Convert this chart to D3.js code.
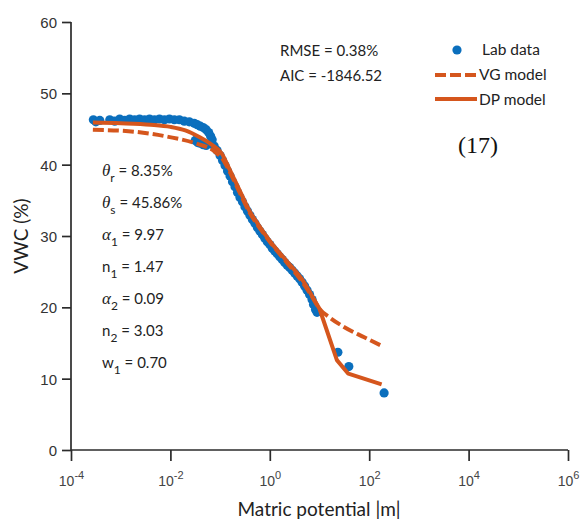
<!DOCTYPE html>
<html>
<head>
  <meta charset="utf-8">
  <script src="https://d3js.org/d3.v7.min.js"></script>
  <style>
    body { margin: 0; background: #fff; }
    svg { display: block; }
    .sans { font-family: Lato, "Open Sans", sans-serif; fill: #222; }
    .tick-y { font-family: "Liberation Sans", Arial, sans-serif; font-size: 15px; fill: #333; }
    .tick-x { font-family: "Liberation Sans", Arial, sans-serif; font-size: 14px; fill: #444; }
  </style>
</head>
<body>
<div id="chart"></div>
<script>
// lab data: [log10 |h| (m), VWC %]
const labData = [
  [-3.55, 46.3], [-3.50, 46.0], [-3.42, 46.2], [-3.22, 46.3], [-3.12, 46.1], [-3.02, 46.4],
  [-2.92, 46.2], [-2.82, 46.4], [-2.72, 46.3], [-2.62, 46.4], [-2.52, 46.3], [-2.42, 46.4],
  [-2.32, 46.3], [-2.22, 46.4], [-2.12, 46.3], [-2.02, 46.4], [-1.92, 46.3], [-1.82, 46.3],
  [-1.72, 46.1], [-1.62, 46.0], [-1.52, 45.8], [-1.46, 45.6], [-1.40, 45.4], [-1.34, 45.2],
  [-1.28, 44.9], [-1.23, 44.5], [-1.19, 44.0], [-1.16, 43.5], [-1.50, 43.4], [-1.45, 43.1],
  [-1.40, 43.0], [-1.34, 42.8], [-1.28, 42.7], [-1.12, 42.6], [-1.06, 42.0], [-1.00, 41.3],
  [-0.95, 40.6], [-0.90, 39.9], [-0.85, 39.1], [-0.80, 38.4], [-0.75, 37.6], [-0.70, 36.9],
  [-0.65, 36.1], [-0.60, 35.4], [-0.55, 34.8], [-0.50, 34.1], [-0.45, 33.5], [-0.40, 32.9],
  [-0.35, 32.3], [-0.30, 31.8], [-0.25, 31.2], [-0.20, 30.7], [-0.15, 30.2], [-0.10, 29.7],
  [-0.05, 29.2], [0.00, 28.8], [0.05, 28.3], [0.10, 27.9], [0.15, 27.5], [0.20, 27.1],
  [0.25, 26.7], [0.30, 26.3], [0.35, 25.9], [0.40, 25.6], [0.45, 25.2], [0.50, 24.8],
  [0.55, 24.4], [0.60, 24.0], [0.65, 23.5], [0.70, 23.0], [0.75, 22.4], [0.80, 21.8],
  [0.85, 21.1], [0.88, 20.4], [0.92, 19.7], [0.95, 19.3],
  [1.37, 13.7], [1.59, 11.7], [2.30, 8.0]
];

// DP model (solid)
const dpModel = [
  [-3.56, 45.9], [-3.0, 45.8], [-2.4, 45.6], [-2.0, 45.3], [-1.7, 44.8], [-1.4, 43.8],
  [-1.17, 42.8], [-0.97, 41.6], [-0.8, 39.2], [-0.6, 36.3], [-0.4, 33.4], [-0.26, 31.9],
  [0.0, 29.3], [0.34, 26.5], [0.67, 23.7], [0.85, 21.6], [1.0, 19.8], [1.35, 12.6],
  [1.58, 10.7], [2.25, 9.2]
];

// VG model (dashed)
const vgModel = [
  [-3.56, 44.9], [-2.7, 44.6], [-2.04, 43.9], [-1.5, 43.0], [-1.1, 41.8], [-0.95, 40.8],
  [-0.8, 38.9], [-0.6, 36.0], [-0.4, 33.2], [-0.26, 31.7], [0.0, 29.2], [0.34, 26.3],
  [0.67, 23.4], [0.85, 21.5], [1.0, 19.8], [1.2, 18.6], [1.48, 17.3], [1.9, 15.8], [2.28, 14.5]
];

const yTicks = [0, 10, 20, 30, 40, 50, 60];
const xTickExps = [-4, -2, 0, 2, 4, 6];

const fitStats = ['RMSE = 0.38%', 'AIC = -1846.52'];
// [symbol, italic greek?, subscript, value]
const params = [
  ['\u03B8', true, 'r', ' = 8.35%'],
  ['\u03B8', true, 's', ' = 45.86%'],
  ['\u03B1', true, '1', ' = 9.97'],
  ['n', false, '1', ' = 1.47'],
  ['\u03B1', true, '2', ' = 0.09'],
  ['n', false, '2', ' = 3.03'],
  ['w', false, '1', ' = 0.70']
];
const legendLabels = ['Lab data', 'VG model', 'DP model'];

const width = 587, height = 529;
const blue = '#0b6fbd', orange = '#d5561d', axisColor = '#2b2b2b';

const svg = d3.select('#chart').append('svg')
  .attr('width', width)
  .attr('height', height);

const x = d3.scaleLog().domain([1e-4, 1e6]).range([71, 568]);
const y = d3.scaleLinear().domain([0, 60]).range([450, 22]);

// axes
const yAxis = svg.append('g')
  .attr('transform', `translate(${x(1e-4)},0)`)
  .call(d3.axisLeft(y).tickValues(yTicks).tickSize(9).tickPadding(5));
yAxis.select('.domain').attr('d', `M0,${y(60)}V${y(0)}`);
yAxis.selectAll('text').attr('class', 'tick-y').attr('dy', '0.36em');

const xAxis = svg.append('g')
  .attr('transform', `translate(0,${y(0)})`)
  .call(d3.axisBottom(x).tickValues(xTickExps.map(e => Math.pow(10, e))).tickSize(11).tickFormat(''));
xAxis.select('.domain').attr('d', `M${x(1e-4)},0H${x(1e6)}`);

[yAxis, xAxis].forEach(a => {
  a.selectAll('.domain, line').attr('stroke', axisColor).attr('stroke-width', 1.7);
});

xAxis.selectAll('.tick').each(function(d) {
  const t = d3.select(this).append('text')
    .attr('class', 'tick-x')
    .attr('y', 36)
    .attr('text-anchor', 'middle');
  t.append('tspan').text('10');
  t.append('tspan').attr('dy', -7).attr('font-size', 11).text(Math.round(Math.log10(d)));
});

// axis titles
svg.append('text')
  .attr('class', 'sans')
  .attr('x', 319).attr('y', 516)
  .attr('text-anchor', 'middle')
  .attr('font-size', 19)
  .text('Matric potential |m|');

svg.append('text')
  .attr('class', 'sans')
  .attr('transform', 'translate(28,236) rotate(-90)')
  .attr('text-anchor', 'middle')
  .attr('font-size', 19)
  .text('VWC (%)');

// data
const pt = d => [x(Math.pow(10, d[0])), y(d[1])];

svg.append('g')
  .selectAll('circle')
  .data(labData)
  .join('circle')
  .attr('cx', d => pt(d)[0])
  .attr('cy', d => pt(d)[1])
  .attr('r', 4.6)
  .attr('fill', blue);

const smooth = d3.line()
  .x(d => pt(d)[0])
  .y(d => pt(d)[1])
  .curve(d3.curveMonotoneX);
const straight = d3.line()
  .x(d => pt(d)[0])
  .y(d => pt(d)[1]);

svg.append('path')
  .datum(vgModel)
  .attr('d', smooth)
  .attr('fill', 'none')
  .attr('stroke', orange)
  .attr('stroke-width', 4)
  .attr('stroke-dasharray', '11,4');

// DP: smooth down to the break, then straight segments
svg.append('path')
  .attr('d', smooth(dpModel.slice(0, 17)) + straight(dpModel.slice(16)).replace('M', 'L'))
  .attr('fill', 'none')
  .attr('stroke', orange)
  .attr('stroke-width', 4)
  .attr('stroke-linejoin', 'round');

// fit statistics
svg.append('g').selectAll('text')
  .data(fitStats)
  .join('text')
  .attr('class', 'sans')
  .attr('x', 280)
  .attr('y', (d, i) => 56 + i * 25)
  .attr('font-size', 15)
  .text(d => d);

// parameters
params.forEach((p, i) => {
  const t = svg.append('text')
    .attr('class', 'sans')
    .attr('x', 102)
    .attr('y', 176 + i * 32)
    .attr('font-size', 15);
  const sym = t.append('tspan').text(p[0]);
  if (p[1]) sym.attr('font-family', '"Liberation Serif", "DejaVu Serif", serif').attr('font-style', 'italic').attr('font-size', 17);
  t.append('tspan').attr('dy', 6).attr('font-size', 12).text(p[2]);
  t.append('tspan').attr('dy', -6).text(p[3]);
});

// legend
const legend = svg.append('g');
legend.append('circle').attr('cx', 457).attr('cy', 50).attr('r', 4.6).attr('fill', blue);
legend.append('line').attr('x1', 435).attr('x2', 477).attr('y1', 75).attr('y2', 75)
  .attr('stroke', orange).attr('stroke-width', 4).attr('stroke-dasharray', '11,4');
legend.append('line').attr('x1', 435).attr('x2', 477).attr('y1', 99).attr('y2', 99)
  .attr('stroke', orange).attr('stroke-width', 4);
legend.selectAll('text.lg')
  .data(legendLabels)
  .join('text')
  .attr('class', 'sans lg')
  .attr('x', (d, i) => i === 0 ? 482 : 479)
  .attr('y', (d, i) => 55 + i * 25)
  .attr('font-size', 15.5)
  .text(d => d);

svg.append('text')
  .attr('x', 458).attr('y', 153)
  .attr('font-family', '"Liberation Serif", "Times New Roman", serif')
  .attr('font-size', 24)
  .attr('fill', '#111')
  .text('(17)');
</script>
</body>
</html>
